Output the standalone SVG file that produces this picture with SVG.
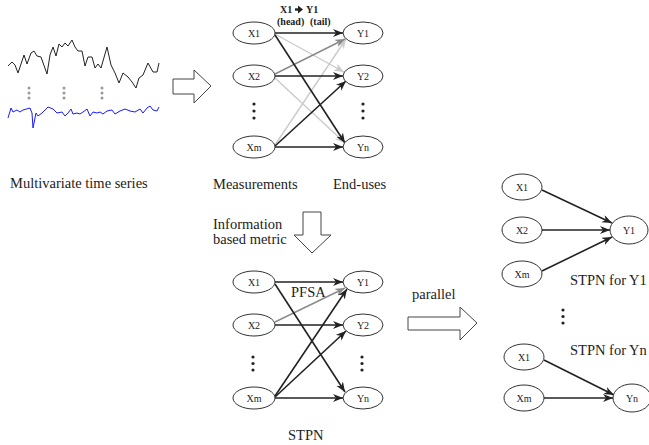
<svg xmlns="http://www.w3.org/2000/svg" width="649" height="445" viewBox="0 0 649 445">
<style>
text{font-family:"Liberation Serif","Times New Roman",serif;fill:#222}
.lbl{font-size:14.5px}
.nl{font-size:10px;text-anchor:middle}
.hd{font-size:10px;font-weight:bold}
.node ellipse{fill:#fff;stroke:#333;stroke-width:1}
.big{fill:#fff;stroke:#444;stroke-width:1}
.dk{stroke:#222;stroke-width:1.6;fill:none;marker-end:url(#ad)}
.md{stroke:#8a8a8a;stroke-width:1.4;fill:none;marker-end:url(#am)}
.lt{stroke:#cbcbcb;stroke-width:1.4;fill:none;marker-end:url(#al)}
.dot{fill:#222}
</style>
<defs>
<marker id="ad" markerUnits="userSpaceOnUse" markerWidth="12" markerHeight="10" refX="10" refY="4" orient="auto"><path d="M0,0 L10,4 L0,8 L3,4 z" fill="#222"/></marker>
<marker id="am" markerUnits="userSpaceOnUse" markerWidth="12" markerHeight="10" refX="10" refY="4" orient="auto"><path d="M0,0 L10,4 L0,8 L3,4 z" fill="#8a8a8a"/></marker>
<marker id="al" markerUnits="userSpaceOnUse" markerWidth="12" markerHeight="10" refX="10" refY="4" orient="auto"><path d="M0,0 L10,4 L0,8 L3,4 z" fill="#cbcbcb"/></marker>
</defs>
<rect width="649" height="445" fill="#fff"/>

<g id="timeseries">
<polyline fill="none" stroke="#222" stroke-width="1" points="8,66 12,62 15,65 18,73 24,55 27,64 31,53 34,51 37,56 41,57 47,74 50,55 53,47 56,56 59,44 62,47 65,43 68,46 72,40 75,47 78,51 82,51 85,66 88,57 92,57 95,68 98,64 101,68 107,47 111,65 115,73 119,83 123,73 128,77 132,82 136,88 139,78 143,75 148,63 153,72 157,72 159,63"/>
<g fill="#999"><circle cx="29" cy="88" r="1.5"/><circle cx="29" cy="93" r="1.5"/><circle cx="29" cy="98" r="1.5"/><circle cx="64" cy="88" r="1.5"/><circle cx="64" cy="93" r="1.5"/><circle cx="64" cy="98" r="1.5"/><circle cx="102" cy="88" r="1.5"/><circle cx="102" cy="93" r="1.5"/><circle cx="102" cy="98" r="1.5"/></g>
<polyline fill="none" stroke="#1a1aff" stroke-width="1" points="8,118 11,108 13,112 17,110 20,112 23,110 30,108 32,113 33,128 36,113 38,116 42,113 48,107 53,109 57,113 62,112 65,116 68,113 71,109 73,114 77,113 80,114 83,112 87,109 90,116 93,112 97,113 100,112 103,114 107,111 112,110 115,114 120,111 125,109 130,111 135,112 140,109 143,113 147,108 150,106 153,110 157,111 159,107"/>
<text class="lbl" x="10" y="188">Multivariate time series</text>
</g>

<g id="arrow1"><polygon class="big" points="173,79 194,79 194,70 211,86 194,103 194,94 173,94"/></g>
<g id="arrow2"><polygon class="big" points="303,212 321,212 321,235 331,235 312,253 294,235 303,235"/></g>
<g id="arrow3"><polygon class="big" points="408,317 460,317 460,307 477,323 460,340 460,330 408,330"/></g>

<g id="labels">
<text class="hd" x="280" y="13">X1</text>
<text class="hd" x="306" y="13">Y1</text>
<path d="M295,9.5 L300,9.5" stroke="#222" stroke-width="2.4"/><path d="M298,5.5 L303,9.5 L298,13.5 z" fill="#222"/>
<text class="hd" x="277" y="25">(head)</text>
<text class="hd" x="310" y="25">(tail)</text>
<text class="lbl" x="213" y="189">Measurements</text>
<text class="lbl" x="333" y="189">End-uses</text>
<text class="lbl" x="213" y="229">Information</text>
<text class="lbl" x="213" y="244">based metric</text>
<text class="lbl" x="291" y="297">PFSA</text>
<text class="lbl" x="288" y="440">STPN</text>
<text class="lbl" x="412" y="299">parallel</text>
<text class="lbl" x="570" y="285">STPN for Y1</text>
<text class="lbl" x="570" y="355">STPN for Yn</text>
</g>

<g id="connectors">
<line class="lt" x1="275" y1="34" x2="344" y2="72"/>
<line class="lt" x1="275" y1="78" x2="345" y2="143"/>
<line class="lt" x1="275" y1="145" x2="346" y2="39"/>
<line class="md" x1="275" y1="74" x2="345" y2="39"/>
<line class="dk" x1="275" y1="33" x2="343" y2="33"/>
<line class="dk" x1="275" y1="35" x2="345" y2="143"/>
<line class="dk" x1="275" y1="76" x2="343" y2="76"/>
<line class="dk" x1="275" y1="146" x2="346" y2="81"/>
<line class="dk" x1="275" y1="147" x2="343" y2="147"/>

<line class="md" x1="275" y1="322" x2="345" y2="288"/>
<line class="dk" x1="275" y1="282" x2="343" y2="282"/>
<line class="dk" x1="275" y1="284" x2="345" y2="392"/>
<line class="dk" x1="275" y1="325" x2="343" y2="325"/>
<line class="dk" x1="275" y1="396" x2="347" y2="289"/>
<line class="dk" x1="275" y1="397" x2="346" y2="331"/>
<line class="dk" x1="275" y1="398" x2="343" y2="398"/>

<line class="dk" x1="542" y1="190" x2="612" y2="223"/>
<line class="dk" x1="542" y1="230" x2="610" y2="230"/>
<line class="dk" x1="542" y1="271" x2="612" y2="237"/>
<line class="dk" x1="544" y1="360" x2="614" y2="395"/>
<line class="dk" x1="544" y1="398" x2="613" y2="398"/>
</g>

<g id="top-X1" class="node"><ellipse cx="254" cy="33" rx="21" ry="11"/><text class="nl" x="254" y="37">X1</text></g>
<g id="top-X2" class="node"><ellipse cx="254" cy="76" rx="21" ry="11"/><text class="nl" x="254" y="80">X2</text></g>
<g id="top-Xm" class="node"><ellipse cx="254" cy="147" rx="21" ry="11"/><text class="nl" x="254" y="151">Xm</text></g>
<g id="top-Y1" class="node"><ellipse cx="363" cy="33" rx="20" ry="11"/><text class="nl" x="363" y="37">Y1</text></g>
<g id="top-Y2" class="node"><ellipse cx="363" cy="76" rx="20" ry="11"/><text class="nl" x="363" y="80">Y2</text></g>
<g id="top-Yn" class="node"><ellipse cx="363" cy="147" rx="20" ry="11"/><text class="nl" x="363" y="151">Yn</text></g>
<g id="top-dots"><circle class="dot" cx="254" cy="104" r="1.6"/><circle class="dot" cx="254" cy="111" r="1.6"/><circle class="dot" cx="254" cy="118" r="1.6"/><circle class="dot" cx="363" cy="104" r="1.6"/><circle class="dot" cx="363" cy="111" r="1.6"/><circle class="dot" cx="363" cy="118" r="1.6"/></g>

<g id="bot-X1" class="node"><ellipse cx="254" cy="282" rx="21" ry="11"/><text class="nl" x="254" y="286">X1</text></g>
<g id="bot-X2" class="node"><ellipse cx="254" cy="325" rx="21" ry="11"/><text class="nl" x="254" y="329">X2</text></g>
<g id="bot-Xm" class="node"><ellipse cx="254" cy="398" rx="21" ry="11"/><text class="nl" x="254" y="402">Xm</text></g>
<g id="bot-Y1" class="node"><ellipse cx="363" cy="282" rx="20" ry="11"/><text class="nl" x="363" y="286">Y1</text></g>
<g id="bot-Y2" class="node"><ellipse cx="363" cy="325" rx="20" ry="11"/><text class="nl" x="363" y="329">Y2</text></g>
<g id="bot-Yn" class="node"><ellipse cx="363" cy="398" rx="20" ry="11"/><text class="nl" x="363" y="402">Yn</text></g>
<g id="bot-dots"><circle class="dot" cx="253" cy="357" r="1.6"/><circle class="dot" cx="253" cy="363.5" r="1.6"/><circle class="dot" cx="253" cy="370" r="1.6"/><circle class="dot" cx="362" cy="357" r="1.6"/><circle class="dot" cx="362" cy="363.5" r="1.6"/><circle class="dot" cx="362" cy="370" r="1.6"/></g>

<g id="r1-X1" class="node"><ellipse cx="522" cy="187" rx="20" ry="13"/><text class="nl" x="522" y="191">X1</text></g>
<g id="r1-X2" class="node"><ellipse cx="522" cy="230" rx="20" ry="13"/><text class="nl" x="522" y="234">X2</text></g>
<g id="r1-Xm" class="node"><ellipse cx="522" cy="274" rx="20" ry="13"/><text class="nl" x="522" y="278">Xm</text></g>
<g id="r1-Y1" class="node"><ellipse cx="629" cy="230" rx="19" ry="14"/><text class="nl" x="629" y="234">Y1</text></g>
<g id="r-dots"><circle class="dot" cx="563" cy="310" r="1.6"/><circle class="dot" cx="563" cy="316.5" r="1.6"/><circle class="dot" cx="563" cy="323" r="1.6"/></g>
<g id="r2-X1" class="node"><ellipse cx="524" cy="357" rx="20" ry="13"/><text class="nl" x="524" y="361">X1</text></g>
<g id="r2-Xm" class="node"><ellipse cx="524" cy="398" rx="20" ry="13"/><text class="nl" x="524" y="402">Xm</text></g>
<g id="r2-Yn" class="node"><ellipse cx="632" cy="398" rx="19" ry="14"/><text class="nl" x="632" y="402">Yn</text></g>
</svg>
